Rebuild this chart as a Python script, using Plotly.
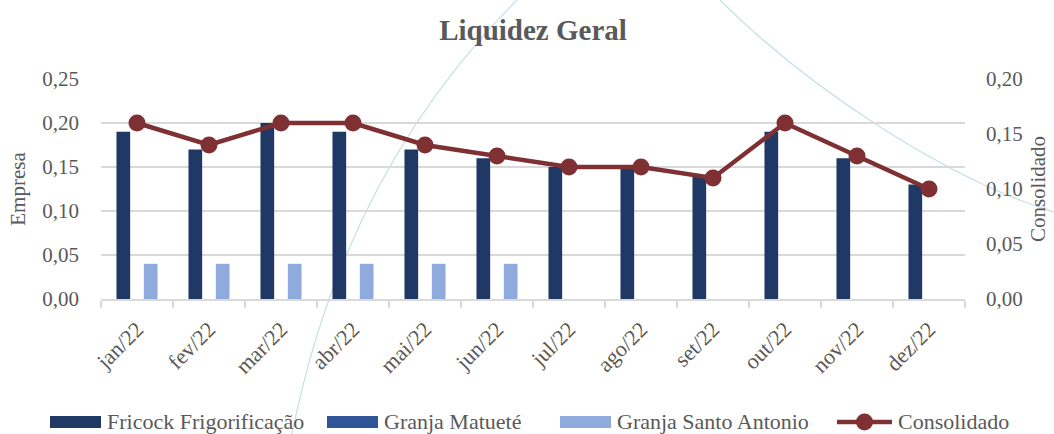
import plotly.graph_objects as go

months = ["jan/22", "fev/22", "mar/22", "abr/22", "mai/22", "jun/22",
          "jul/22", "ago/22", "set/22", "out/22", "nov/22", "dez/22"]
fricock = [0.19, 0.17, 0.20, 0.19, 0.17, 0.16, 0.15, 0.15, 0.14, 0.19, 0.16, 0.13]
matuete = [0, 0, 0, 0, 0, 0, 0, 0, 0, 0, 0, 0]
santo_antonio = [0.04, 0.04, 0.04, 0.04, 0.04, 0.04, 0, 0, 0, 0, 0, 0]
consolidado = [0.16, 0.14, 0.16, 0.16, 0.14, 0.13, 0.12, 0.12, 0.11, 0.16, 0.13, 0.10]
series_names = ["Fricock Frigorificação", "Granja Matueté", "Granja Santo Antonio", "Consolidado"]
series_colors = ["#1f3864", "#2f5597", "#8faadc", "#7f3033"]

FONT = "Liberation Serif"
GREY = "#595959"
GRID = "#d9d9d9"

W, H = 1054, 434
ML, MR, MT, MB = 101, 89, 79, 135
PW, PH = W - ML - MR, H - MT - MB


def px(x, y):
    return (x - ML) / PW, (H - MB - y) / PH


def cubic(p0, p1, p2, p3):
    pts = [px(*p) for p in (p0, p1, p2, p3)]
    return "M {0[0]:.4f},{0[1]:.4f} C {1[0]:.4f},{1[1]:.4f} {2[0]:.4f},{2[1]:.4f} {3[0]:.4f},{3[1]:.4f}".format(*pts)


fig = go.Figure()
for name, vals, col in zip(series_names[:3], [fricock, matuete, santo_antonio], series_colors[:3]):
    fig.add_trace(go.Bar(name=name, x=months, y=vals, showlegend=False,
                         marker=dict(color=col, line=dict(width=0))))
fig.add_trace(go.Scatter(name=series_names[3], x=months, y=consolidado, yaxis="y2",
                         mode="lines+markers", showlegend=False,
                         line=dict(color=series_colors[3], width=4.5),
                         marker=dict(color=series_colors[3], size=17)))

deco = dict(type="path", xref="paper", yref="paper", layer="below",
            line=dict(color="#c6dfe9", width=1.2))
shapes = [
    dict(deco, path=cubic((292, 434), (322, 284), (387, 130), (517, 0))),
    dict(deco, path=cubic((720, 0), (810, 90), (949, 180), (1054, 212))),
]

# custom legend (wide swatches as in the reference)
LEG_Y = 422
swatch_x = [50, 327, 560, 837]
annotations = []
for i, (name, col, sx) in enumerate(zip(series_names, series_colors, swatch_x)):
    x0, y0 = px(sx, LEG_Y + 6)
    x1, y1 = px(sx + 51, LEG_Y - 6)
    if i < 3:
        shapes.append(dict(type="rect", xref="paper", yref="paper", x0=x0, x1=x1, y0=y0, y1=y1,
                           fillcolor=col, line=dict(width=0)))
        tx = sx + 55
    else:
        xa, ya = px(sx, LEG_Y)
        xb, _ = px(sx + 55, LEG_Y)
        shapes.append(dict(type="line", xref="paper", yref="paper", x0=xa, x1=xb, y0=ya, y1=ya,
                           line=dict(color=col, width=4.5)))
        cx0, cy0 = px(sx + 27.5 - 8.5, LEG_Y + 8.5)
        cx1, cy1 = px(sx + 27.5 + 8.5, LEG_Y - 8.5)
        shapes.append(dict(type="circle", xref="paper", yref="paper", x0=cx0, x1=cx1, y0=cy0, y1=cy1,
                           fillcolor=col, line=dict(width=0)))
        tx = sx + 59
    ax, ay = px(tx, LEG_Y - 1)
    annotations.append(dict(text=name, xref="paper", yref="paper", x=ax, y=ay,
                            xanchor="left", yanchor="middle", showarrow=False,
                            font=dict(family=FONT, size=22, color=GREY)))

fig.update_layout(
    width=W, height=H,
    margin=dict(l=ML, r=MR, t=MT, b=MB, autoexpand=False),
    paper_bgcolor="white", plot_bgcolor="rgba(0,0,0,0)",
    font=dict(family=FONT, color=GREY, size=21),
    showlegend=False,
    title=dict(text="<b>Liquidez Geral</b>", x=0.5, xref="paper", xanchor="center",
               y=1 - 30 / H, yref="container", yanchor="middle",
               font=dict(family=FONT, size=29, color=GREY)),
    barmode="group", bargap=0.43, bargroupgap=0,
    xaxis=dict(showgrid=False, showline=True, linecolor=GRID, linewidth=1.5,
               range=[-0.5, len(months) - 0.5],
               ticks="outside", tickson="boundaries", ticklen=7, tickcolor=GRID,
               tickwidth=1.5, tickangle=-45, tickfont=dict(size=22, color=GREY),
               ticklabelstandoff=7, automargin=False),
    yaxis=dict(title=dict(text="Empresa", font=dict(size=21, color=GREY), standoff=10),
               range=[0, 0.25], dtick=0.05, tickformat=".2f",
               showgrid=True, gridcolor=GRID, gridwidth=1.5, zeroline=False,
               showline=False, ticks="", ticklabelstandoff=21, automargin=False,
               tickfont=dict(size=21, color=GREY)),
    yaxis2=dict(title=dict(text="Consolidado", font=dict(size=21, color=GREY), standoff=8),
                range=[0, 0.20], dtick=0.05, tickformat=".2f", overlaying="y", side="right",
                showgrid=False, zeroline=False, showline=False, ticks="", automargin=False,
                ticklabelstandoff=20, tickfont=dict(size=21, color=GREY)),
    separators=", ",
    shapes=shapes,
    annotations=annotations,
)

fig.write_html("out.html", config={"displayModeBar": False},
               post_script="document.body.style.margin='0';document.body.style.overflow='hidden';")
